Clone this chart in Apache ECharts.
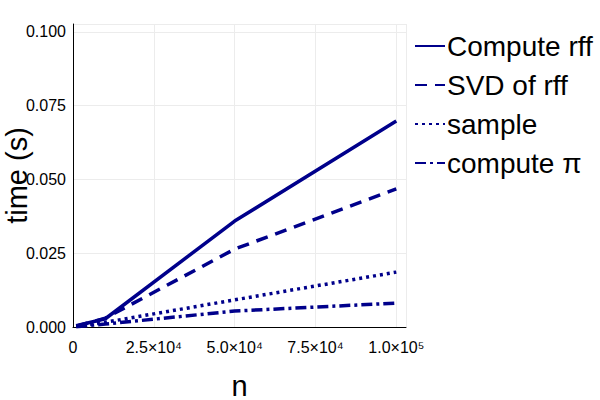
<!DOCTYPE html>
<html>
<head>
<meta charset="utf-8">
<script src="https://cdn.jsdelivr.net/npm/echarts@6/dist/echarts.min.js"></script>
<style>
  html, body { margin: 0; padding: 0; background: #fff; }
  #chart { width: 600px; height: 400px; }
</style>
</head>
<body>
<div id="chart"></div>
<script>
var nValues = [1000, 10000, 50000, 100000];
var computeRff = [0.0004, 0.0028, 0.0359, 0.0698];
var svdOfRff = [0.0003, 0.0030, 0.0264, 0.0468];
var sampleTime = [0.0002, 0.0016, 0.0092, 0.0186];
var computePi = [0.0001, 0.0010, 0.0054, 0.0081];
var seriesNames = ['Compute rff', 'SVD of rff', 'sample', 'compute π'];
var xTickLabels = { 0: '0', 25000: '2.5×10⁴', 50000: '5.0×10⁴', 75000: '7.5×10⁴', 100000: '1.0×10⁵' };

(function () {
  var navy = '#00008b';
  var font = 'Liberation Sans';
  var chart = echarts.init(document.getElementById('chart'), null, { renderer: 'svg' });

  function pairs(ys) {
    return nValues.map(function (x, i) { return [x, ys[i]]; });
  }

  function line(name, ys, dash) {
    return {
      name: name,
      type: 'line',
      data: pairs(ys),
      symbol: 'none',
      lineStyle: { width: 3.5, color: navy, type: dash },
      itemStyle: { color: navy }
    };
  }

  chart.setOption({
    animation: false,
    textStyle: { fontFamily: font },
    grid: { left: 73, right: 194, top: 24, bottom: 73, containLabel: false, outerBoundsMode: 'none' },
    legend: {
      orient: 'vertical',
      left: 409,
      top: 27,
      itemGap: 11,
      itemWidth: 30,
      itemHeight: 4,
      itemStyle: { opacity: 0 },
      textStyle: { fontSize: 28, color: '#000', fontFamily: font, padding: [0, 0, 0, -3] },
      data: seriesNames
    },
    xAxis: {
      type: 'value',
      min: 0,
      max: 103000,
      interval: 25000,
      name: 'n',
      nameLocation: 'middle',
      nameGap: 44,
      nameMoveOverlap: false,
      nameTextStyle: { fontSize: 29, color: '#000' },
      axisLine: { lineStyle: { color: '#000', width: 1 } },
      axisTick: { show: false },
      axisLabel: {
        fontSize: 16,
        color: '#000',
        margin: 12,
        showMaxLabel: false,
        formatter: function (v) { return xTickLabels[v] !== undefined ? xTickLabels[v] : ''; }
      },
      splitLine: { show: true, lineStyle: { color: '#ececec', width: 1 } }
    },
    yAxis: {
      type: 'value',
      min: 0,
      max: 0.1027,
      interval: 0.025,
      name: 'time (s)',
      nameLocation: 'middle',
      nameGap: 42,
      nameMoveOverlap: false,
      nameTextStyle: { fontSize: 29, color: '#000' },
      axisLine: { show: true, lineStyle: { color: '#000', width: 1 } },
      axisTick: { show: false },
      axisLabel: {
        fontSize: 16,
        color: '#000',
        margin: 7,
        showMaxLabel: false,
        formatter: function (v) { return Math.abs(v / 0.025 - Math.round(v / 0.025)) < 1e-6 ? v.toFixed(3) : ''; }
      },
      splitLine: { show: true, lineStyle: { color: '#ececec', width: 1 } }
    },
    series: [
      line(seriesNames[0], computeRff, 'solid'),
      line(seriesNames[1], svdOfRff, [12, 8]),
      line(seriesNames[2], sampleTime, [3, 4]),
      line(seriesNames[3], computePi, [11, 4, 3, 4])
    ]
  });
})();
</script>
</body>
</html>
